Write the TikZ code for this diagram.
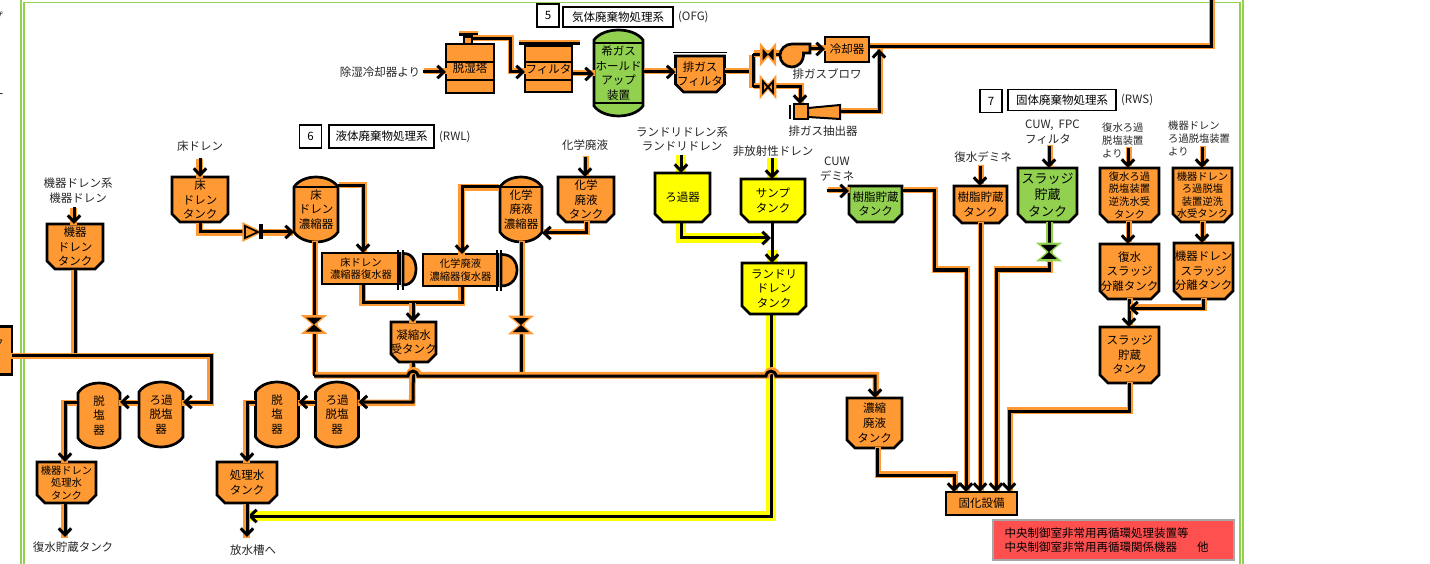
\documentclass[tikz,border=0pt]{standalone}
\usepackage{fontspec}
\setmainfont{Noto Sans CJK JP}
\usetikzlibrary{calc,arrows.meta,positioning}
\definecolor{rwOrange}{RGB}{255,153,51}
\definecolor{rwGreen}{RGB}{146,208,80}
\definecolor{rwYellow}{RGB}{255,255,0}
\definecolor{rwRed}{RGB}{255,80,80}
\tikzset{
  fnorm/.style={font=\fontsize{11.5}{14.6}\selectfont},
  fsmall/.style={font=\fontsize{10.3}{12.6}\selectfont},
  fbig/.style={font=\fontsize{13}{16.4}\selectfont},
  fcode/.style={font=\fontsize{11.5}{13}\selectfont},
  lbl/.style={fnorm, align=center, inner sep=0pt, text=black!85},
  lblsmall/.style={lbl, fsmall, align=left},
  tbox/.style={rectangle, draw=black, line width=1.8pt, fill=white, fnorm, inner sep=0pt},
  vline/.style={draw=black, line width=2.7pt, line join=miter},
  box/.style={rectangle, vline, fill=rwOrange, inner sep=0pt, outer sep=0pt, fnorm, align=center},
  vtxt/.style={rectangle, inner sep=0pt, outer sep=0pt, fnorm, align=center},
  glow/.style n args={4}{preaction={draw=#1, line width=#2, -, transform canvas={shift={(#3,#4)}}}},
  pipe/.style={line width=3pt, black, line join=miter, glow={rwOrange}{6.6pt}{.8}{-.8}},
  pipeB/.style={line width=3pt, black, line join=miter, glow={rwOrange}{6.6pt}{-.8}{.8}},
  pipeY/.style={line width=3pt, black, line join=miter, glow={rwYellow}{9.5pt}{-.4}{.6}},
  pipeG/.style={line width=3pt, black, glow={rwGreen}{7pt}{0}{0}},
  arw/.style={-{Straight Barb[length=6.5pt,width=12.5pt]}},
  pics/vvalve/.style={code={
    \draw[#1, line width=2.6pt, line join=miter] (-9.5,-8)--(9.5,-8)--(-9.5,8)--(9.5,8)--cycle;
    \fill[black] (-8,-7)--(8,-7)--(-8,7)--(8,7)--cycle;}},
  pics/hvalve/.style={code={
    \draw[rwOrange, line width=3.4pt, line join=miter] (-6.5,-7.5)--(-6.5,7.5)--(6.5,-7.5)--(6.5,7.5)--cycle;
    \fill[black] (-5.5,-6)--(-5.5,6)--(5.5,-6)--(5.5,6)--cycle;}},
  pics/hvalveopen/.style={code={
    \draw[rwOrange, line width=3.6pt, line join=miter] (-6.5,-7.5)--(-6.5,7.5)--(6.5,-7.5)--(6.5,7.5)--cycle;
    \draw[black, fill=rwOrange, line width=1.8pt] (-5,-5.5)--(-5,5.5)--(5,-5.5)--(5,5.5)--cycle;}},
}
\newcommand{\vessel}[7]{%
  \draw[vline, fill=#6] (#2-#5,#3+10) .. controls (#2-#5*0.6,#3-3.3) and (#2+#5*0.6,#3-3.3) .. (#2+#5,#3+10)
    -- (#2+#5,#4-10) .. controls (#2+#5*0.6,#4+3.3) and (#2-#5*0.6,#4+3.3) .. (#2-#5,#4-10) -- cycle;
  \node[vtxt, minimum width={2*#5}, minimum height={#4-#3}] (#1) at (#2,{(#3+#4)/2}) {#7};}
\newcommand{\tank}[8][]{%
  \draw[vline, fill=#2] (#4-#6/2,#5-#7/2) -- (#4+#6/2,#5-#7/2) -- (#4+#6/2,#5+#7/2-8) -- (#4+#6/2-8,#5+#7/2)
    -- (#4-#6/2+8,#5+#7/2) -- (#4-#6/2,#5+#7/2-8) -- cycle;
  \node[vtxt, #1, minimum width=#6, minimum height=#7] (#3) at (#4,#5) {#8};}
\begin{document}
\begin{tikzpicture}[x=1pt,y=-1pt]
  \useasboundingbox (0,0) rectangle (1430,564);
  \draw[rwGreen, line width=1.3pt, double=white, double distance=1.5pt] (22.5,.8) rectangle (1241.5,580);
  % cut-off text on the left edge
  \node[lbl] (cutP) at (-3,17) {プ};
  \node[lbl] (cutQ) at (-2,96) {ー};
  % section titles
  \node[tbox, minimum width=22, minimum height=23] (n5) at (548,15.5) {5};
  \node[tbox, minimum width=110, minimum height=20] (t5) at (618,17) {気体廃棄物処理系};
  \node[lbl, fcode, right=4pt of t5] (c5) {(OFG)};
  \node[tbox, minimum width=22, minimum height=23] (n6) at (310.5,136.5) {6};
  \node[tbox, minimum width=105, minimum height=23] (t6) at (381.5,136.5) {液体廃棄物処理系};
  \node[lbl, fcode, right=4pt of t6] (c6) {(RWL)};
  \node[tbox, minimum width=22, minimum height=23] (n7) at (991,101) {7};
  \node[tbox, minimum width=108, minimum height=21] (t7) at (1062,100) {固体廃棄物処理系};
  \node[lbl, fcode, right=4pt of t7] (c7) {(RWS)};
  % gas waste line
  \node[lbl] (lDehum) at (380,72) {除湿冷却器より};
  \node[box, minimum width=48, minimum height=49] (tower) at (470,68.5) {\raisebox{-2.5pt}{脱湿塔}};
  \draw[vline] (446,62) -- (494,62) (446,80) -- (494,80);
  \draw[vline, line width=1.8pt, fill=rwOrange] (464,37) rectangle (472,44);
  \fill[rwOrange] (459,31) rectangle (478,33);
  \fill[black] (459,33) rectangle (478,36.5);
  \node[box, minimum width=47, minimum height=46] (filt) at (548.5,69) {\raisebox{-3pt}{フィルタ}};
  \draw[vline] (525,62) -- (572,62) (525,80) -- (572,80);
  \fill[rwOrange] (519,40.5) rectangle (580,42.5);
  \fill[black] (519,42.5) rectangle (580,45.5);
  \vessel{hold}{618.5}{30}{116}{24.5}{rwGreen}{希ガス\\ホールド\\アップ\\装置}
  \draw[vline, line width=1.6pt] (594,43) -- (643,43) (594,103) -- (643,103);
  \tank{rwOrange}{ofgF}{700}{74}{49}{36}{排ガス\\フィルタ}
  \draw[black, line width=1.6pt] (673,52.5) -- (727,52.5);
  \node[box, minimum width=44, minimum height=25] (cool) at (847,49.5) {冷却器};
  \node[lbl] (lBlow) at (827,74) {排ガスブロワ};
  \node[lbl] (lEjec) at (823,131) {排ガス抽出器};
  \coordinate (inDehum) at (423,72);
  \coordinate (towOut) at (472,39);
  \coordinate (towB) at (510,39);
  \coordinate (filtIn) at (510,72);
  \coordinate (ofgJ) at (753,72);
  \coordinate (ofgU) at (753,54.5);
  \coordinate (ofgD) at (753,87);
  \coordinate (blowIn) at (780,54.5);
  \coordinate (blowOut) at (810,49);
  \coordinate (ejecB) at (800,87);
  \coordinate (ejecIn) at (800,104);
  \coordinate (ejecOut) at (840,112);
  \coordinate (ejecC) at (879,112);
  \coordinate (ejecEnd) at (879,49);
  \coordinate (coolA) at (1211,47);
  \coordinate (coolEnd) at (1211,-3);
  \draw[pipe, arw] (inDehum) -- (tower.west |- inDehum);
  \draw[pipe, arw] (towOut) -- (towB) -- (filtIn) -- (filt.west |- filtIn);
  \draw[pipe, arw] (filt.east |- 0,74) -- (hold.west |- 0,74);
  \draw[pipe, arw] (hold.east |- 0,72) -- (ofgF.west |- 0,72);
  \draw[pipe] (ofgF.east |- ofgJ) -- (ofgJ);
  \draw[pipe, arw] (blowOut) -- (cool.west |- blowOut);
  \draw[pipeB] (ofgU) -- (ofgD);
  \draw[pipe] (ofgU) -- (blowIn);
  \draw[pipe, arw] (ofgD) -- (ejecB) -- (ejecIn);
  \pic at (768,54.5) {hvalve};
  \pic at (768,87) {hvalveopen};
  \draw[vline, fill=rwOrange] (792,44) -- (810,44) -- (810,53) -- (803.5,53)
    .. controls (804,62) and (798,67) .. (792,67) .. controls (785.5,67) and (780,62) .. (780,55.5)
    .. controls (780,49) and (785.5,44) .. (792,44) -- cycle;
  \draw[vline, line width=2pt, fill=rwOrange] (794,104) rectangle (808,119);
  \draw[vline, line width=2pt] (790,105) -- (790,119);
  \draw[vline, line width=2pt, fill=rwOrange] (808,108) -- (840,105) -- (840,119) -- (808,117) -- cycle;
  \draw[pipe, arw] (ejecOut) -- (ejecC) -- (ejecEnd);
  \draw[pipe] (cool.east |- coolA) -- (coolA) -- (coolEnd);
  % equipment drain
  \node[box, minimum width=52, minimum height=48] (leftT) at (-14,350.5) {};
  \node[lbl] (cutK) at (-2,343) {ク};
  \node[lbl] (lEqD) at (78,190.5) {機器ドレン系\\機器ドレン};
  \tank{rwOrange}{eqT}{75}{246.5}{56}{45}{機器\\ドレン\\タンク}
  \vessel{eqF}{161}{382}{447}{22}{rwOrange}{ろ過\\脱塩\\器}
  \vessel{eqD}{99}{383}{448}{21}{rwOrange}{脱\\塩\\器}
  \tank[fsmall]{rwOrange}{eqW}{66.5}{482.5}{59}{41}{機器ドレン\\処理水\\タンク}
  \node[lbl] (lCst) at (73,547) {復水貯蔵タンク};
  \coordinate (eqIn) at (74,207);
  \coordinate (eqJ) at (75,355);
  \coordinate (eqA) at (211,355);
  \coordinate (eqB) at (211,402);
  \coordinate (eqC) at (65,402);
  \coordinate (eqEnd) at (65,537);
  \draw[pipeB, arw] (eqIn) -- (eqIn |- eqT.north);
  \draw[pipeB] (eqT.south) -- (eqJ);
  \draw[pipeB, arw] (leftT.east |- eqJ) -- (eqA) -- (eqB) -- (eqF.east |- eqB);
  \draw[pipeB, arw] (eqF.west |- eqB) -- (eqD.east |- eqB);
  \draw[pipeB, arw] (eqD.west |- eqB) -- (eqC) -- (eqC |- eqW.north);
  \draw[pipeB, arw] (eqW.south -| eqC) -- (eqEnd);
  % floor drain
  \node[lbl] (lFlo) at (200,146) {床ドレン};
  \tank{rwOrange}{floT}{200}{199.5}{56}{45}{床\\ドレン\\タンク}
  \vessel{floE}{316}{177}{242}{22}{rwOrange}{床\\ドレン\\濃縮器}
  \draw[vline] (294,187) -- (338,187);
  \draw[vline, fill=rwOrange] (403,253.5) .. controls (412,253) and (416,261) .. (416,269)
    .. controls (416,277) and (412,285) .. (403,285) -- cycle;
  \node[box, fsmall, minimum width=78, minimum height=31] (floC) at (361,268.5) {床ドレン\\濃縮器復水器};
  \draw[black, line width=1.8pt] (398,250) -- (398,290) (403,250) -- (403,290);
  \coordinate (floIn) at (200,158);
  \coordinate (floA) at (200,232);
  \coordinate (chkIn) at (245,232);
  \coordinate (chkOut) at (261,232);
  \coordinate (floB) at (363,186);
  \draw[pipeB, arw] (floIn) -- (floT.north);
  \draw[pipeB] (floT.south) -- (floA) -- (chkIn);
  \draw[pipeB, arw] (chkOut) -- (floE.west |- chkOut);
  \draw[rwOrange, line width=2.4pt, line join=miter] (243.5,224) -- (243.5,240) -- (260,232) -- cycle;
  \draw[black, line width=1.7pt, fill=rwOrange, line join=miter] (245,226) -- (245,238) -- (258,232) -- cycle;
  \fill[black] (258.5,224.5) rectangle (262.5,239.5);
  \draw[pipe, arw] (floE.east |- floB) -- (floB) -- (floB |- floC.north);
  % chemical drain
  \node[lbl] (lChe) at (585,145) {化学廃液};
  \tank{rwOrange}{cheT}{586}{199.5}{56}{45}{化学\\廃液\\タンク}
  \vessel{cheE}{521}{177}{242}{21}{rwOrange}{化学\\廃液\\濃縮器}
  \draw[vline] (500,187) -- (542,187);
  \draw[vline, fill=rwOrange] (501,254.5) .. controls (512,254) and (517,262) .. (517,270)
    .. controls (517,278) and (512,286) .. (501,286) -- cycle;
  \node[box, fsmall, minimum width=75, minimum height=32] (cheC) at (460.5,270) {化学廃液\\濃縮器復水器};
  \draw[black, line width=2pt] (497,250) -- (497,291) (501,250) -- (501,291);
  \tank{rwOrange}{conT}{413.5}{342}{45}{40}{凝縮水\\受タンク}
  \coordinate (cheIn) at (585,157);
  \coordinate (cheA) at (586,233);
  \coordinate (cheB) at (462,187);
  \coordinate (conA) at (363,302);
  \coordinate (conB) at (462,302);
  \coordinate (conC) at (413,302);
  \draw[pipe, arw] (cheIn) -- (cheIn |- cheT.north);
  \draw[pipe, arw] (cheT.south) -- (cheA) -- (cheE.east |- cheA);
  \draw[pipeB, arw] (cheE.west |- cheB) -- (cheB) -- (cheB |- cheC.north);
  \draw[pipeB] (floC.south -| conA) -- (conA) -- (conB) -- (cheC.south -| conB);
  \draw[pipeB, arw] (conC) -- (conC |- conT.north);
  % laundry drain
  \node[lbl] (lLau) at (682,139) {ランドリドレン系\\ランドリドレン};
  \node[lbl] (lNon) at (773,151) {非放射性ドレン};
  \coordinate (rofIn) at (681,155);
  \coordinate (rofA) at (681,238);
  \coordinate (rofEnd) at (771,238);
  \coordinate (nonIn) at (772,158);
  \coordinate (lauA) at (771,516);
  \coordinate (lauEnd) at (248,516);
  \path[preaction={draw=rwYellow, line width=9.5pt}] (rofIn) -- (rofIn |- 0,172);
  \path[preaction={draw=rwYellow, line width=9.5pt}] (rofA |- 0,222) -- (rofA) -- ($(rofEnd)+(-3,0)$);
  \path[preaction={draw=rwYellow, line width=9.5pt}] (nonIn) -- (nonIn |- 0,179);
  \path[preaction={draw=rwYellow, line width=9.5pt}] (nonIn |- 0,250) -- (nonIn |- 0,263);
  \path[preaction={draw=rwYellow, line width=9.5pt}] (lauA |- 0,314) -- (lauA) -- (lauEnd);
  \tank{rwYellow}{rof}{682.5}{197.5}{55}{49}{ろ過器}
  \tank{rwYellow}{sump}{773}{200.5}{64}{43}{サンプ\\タンク}
  \tank{rwYellow}{laun}{774}{288.5}{64}{51}{ランドリ\\ドレン\\タンク}
  \draw[line width=3pt, black, arw] (rofIn) -- (rofIn |- rof.north);
  \draw[line width=3pt, black, line join=miter, arw] (rof.south -| rofA) -- (rofA) -- (rofEnd);
  \draw[line width=3pt, black, arw] (nonIn) -- (nonIn |- sump.north);
  \draw[line width=3pt, black, arw] (nonIn |- sump.south) -- (nonIn |- laun.north);
  \draw[line width=3pt, black, line join=miter, arw] (lauA |- laun.south) -- (lauA) -- (lauEnd);
  % main liquid line, hops over the vertical lines
  \vessel{rwF}{337}{382}{447}{21.5}{rwOrange}{ろ過\\脱塩\\器}
  \vessel{rwD}{277}{382}{447}{21.5}{rwOrange}{脱\\塩\\器}
  \tank{rwOrange}{rwT}{247}{482.5}{60}{41}{処理水\\タンク}
  \node[lbl] (lDis) at (253,550) {放水槽へ};
  \tank{rwOrange}{cncT}{874.5}{423}{55}{50}{濃縮\\廃液\\タンク}
  \node[box, minimum width=71, minimum height=23] (solid) at (981.5,503.5) {固化設備};
  \coordinate (mainA) at (314,376);
  \coordinate (mainB) at (521,376);
  \coordinate (mainC) at (875,376);
  \coordinate (conD) at (413,402);
  \coordinate (rwA) at (247,402);
  \coordinate (rwEnd) at (247,537);
  \coordinate (cncA) at (877,475);
  \coordinate (cncB) at (954,475);
  \draw[pipeB, arw] (conT.south) -- (conD) -- (rwF.east |- conD);
  \draw[pipeB, arw] (rwF.west |- rwA) -- (rwD.east |- rwA);
  \draw[pipeB, arw] (rwD.west |- rwA) -- (rwA) -- (rwA |- rwT.north);
  \draw[pipeB, arw] (rwT.south) -- (rwEnd);
  \draw[pipe] (floE.south -| mainA) -- (mainA);
  \draw[pipe] (cheE.south -| mainB) -- (mainB);
  \draw[pipe, arw] (mainA) -- (408,376) .. controls (409,369.5) and (417,369.5) .. (418,376) -- (766,376)
    .. controls (767,369.5) and (775,369.5) .. (776,376) -- (mainC) -- (mainC |- cncT.north);
  \draw[pipe, arw] (cncT.south -| cncA) -- (cncA) -- (cncB) -- (cncB |- solid.north);
  \pic at (314,324.5) {vvalve=rwOrange};
  \pic at (521,325) {vvalve=rwOrange};
  % solid waste
  \node[lbl] (lCuw) at (837,169) {CUW\\デミネ};
  \tank{rwGreen}{resG}{875.5}{204}{53}{36}{樹脂貯蔵\\タンク}
  \node[lbl] (lDem) at (983,157) {復水デミネ};
  \tank{rwOrange}{resO}{980.5}{204.5}{53}{37}{樹脂貯蔵\\タンク}
  \node[lbl, align=left, anchor=west] (lFil) at (1025,132) {CUW,\ \ FPC\\フィルタ};
  \tank[fbig]{rwGreen}{sluG}{1047.5}{195}{59}{54}{スラッジ\\貯蔵\\タンク}
  \node[lblsmall, anchor=west] (lBwA) at (1102,140.5) {復水ろ過\\脱塩装置\\より};
  \node[lblsmall, anchor=west] (lBwB) at (1168,138.5) {機器ドレン\\ろ過脱塩装置\\より};
  \tank[fsmall]{rwOrange}{bwA}{1129.5}{195}{59}{54}{復水ろ過\\脱塩装置\\逆洗水受\\タンク}
  \tank[fsmall]{rwOrange}{bwB}{1202.5}{195}{59}{54}{機器ドレン\\ろ過脱塩\\装置逆洗\\水受タンク}
  \tank{rwOrange}{sepA}{1129.5}{271.5}{59}{55}{復水\\スラッジ\\分離タンク}
  \tank{rwOrange}{sepB}{1203.5}{271}{59}{56}{機器ドレン\\スラッジ\\分離タンク}
  \tank{rwOrange}{sluO}{1129.5}{355}{59}{56}{スラッジ\\貯蔵\\タンク}
  \coordinate (resIn) at (827,191);
  \coordinate (resA) at (934,191);
  \coordinate (resB) at (934,270);
  \coordinate (resC) at (966,270);
  \coordinate (demIn) at (980,166);
  \coordinate (filIn) at (1049,146);
  \coordinate (sluA) at (1049,270);
  \coordinate (sluB) at (996,270);
  \coordinate (bwAIn) at (1128,148);
  \coordinate (bwBIn) at (1202,147);
  \coordinate (sepC) at (1203,308);
  \coordinate (sluC) at (1129,411);
  \coordinate (sluD) at (1009,411);
  \draw[pipe, arw] (resIn) -- (resG.west |- resIn);
  \draw[pipe, arw] (resG.east |- resA) -- (resA) -- (resB) -- (resC) -- (resC |- solid.north);
  \draw[pipe, arw] (demIn) -- (demIn |- resO.north);
  \draw[pipe, arw] (resO.south -| demIn) -- (demIn |- solid.north);
  \draw[pipe, arw] (filIn) -- (filIn |- sluG.north);
  \draw[pipeG] (sluG.south -| sluA) -- (1049,262);
  \draw[pipe, arw] (1049,262) -- (sluA) -- (sluB) -- (sluB |- solid.north);
  \pic at (1049,252) {vvalve=rwGreen};
  \draw[pipe, arw] (bwAIn) -- (bwAIn |- bwA.north);
  \draw[pipe, arw] (bwBIn) -- (bwBIn |- bwB.north);
  \draw[pipe, arw] (bwAIn |- bwA.south) -- (bwAIn |- sepA.north);
  \draw[pipe, arw] (bwBIn |- bwB.south) -- (bwBIn |- sepB.north);
  \draw[pipe, arw] (sluC |- sepA.south) -- (sluC |- sluO.north);
  \draw[pipe, arw] (sepC |- sepB.south) -- (sepC) -- (sluC |- sepC);
  \draw[pipe, arw] (sluO.south -| sluC) -- (sluC) -- (sluD) -- (sluD |- solid.north);
  % note
  \node[rectangle, draw=black!35, line width=1.4pt, fill=rwRed, minimum width=241, minimum height=40,
        fnorm, align=left, inner sep=0pt] (note) at (1113.5,540)
        {\hspace*{-14pt}中央制御室非常用再循環処理装置等\\\hspace*{-14pt}中央制御室非常用再循環関係機器\hspace{20pt}他};
\end{tikzpicture}
\end{document}
